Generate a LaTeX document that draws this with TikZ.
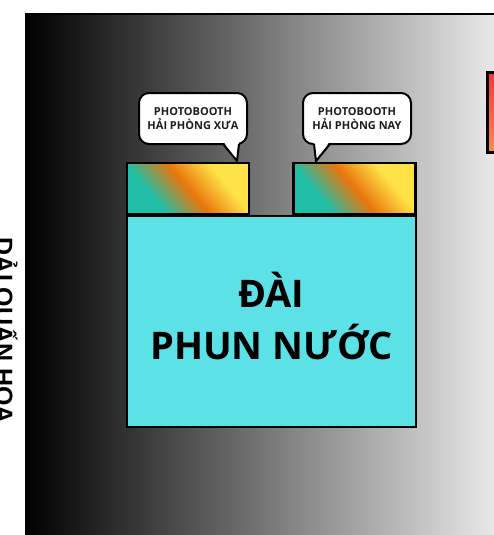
\documentclass[tikz,border=0pt]{standalone}
\usepackage{fontspec}
\setmainfont{Open Sans}
\newfontfamily\sidefont{Liberation Sans}
\usetikzlibrary{positioning}
\definecolor{fountaincyan}{RGB}{92,225,230}
\definecolor{boothteal}{RGB}{32,190,166}
\definecolor{boothorange}{RGB}{232,118,12}
\definecolor{boothyellow}{RGB}{255,226,72}
\definecolor{signred}{RGB}{244,56,56}
\definecolor{signorange}{RGB}{250,140,78}
\definecolor{bubbletext}{RGB}{30,30,30}
\pgfdeclarehorizontalshading{boothshade}{100bp}{color(0bp)=(boothteal); color(32bp)=(boothteal); color(50bp)=(boothorange); color(68bp)=(boothyellow); color(100bp)=(boothyellow)}
\tikzset{
  booth/.style={draw=black, line width=2.5pt, shading=boothshade, shading angle=40, minimum width=122pt, minimum height=51pt, inner sep=0pt},
  bubble/.style={draw=black, line width=2pt, fill=white, rounded corners=10pt, minimum width=108pt, minimum height=51pt, align=center, inner sep=0pt, text=bubbletext, font=\bfseries\fontsize{11}{14.5}\selectfont},
  tail/.style={draw=black, line width=2pt, line join=miter}
}
\begin{document}
\begin{tikzpicture}[x=1pt, y=-1pt]
\useasboundingbox (0,0) rectangle (494,535);
% backdrop
\shade[left color=black, right color=white!96!black] (25,14) rectangle (520,560);
\draw[line width=2pt] (25,14) -- (520,14);
\node[font=\sidefont\bfseries\fontsize{25}{30}\selectfont, rotate=-90, anchor=base, inner sep=0pt] (side) at (-5,331) {DẢI QUẤN HOA};
% sign on the right
\shade[top color=signred, bottom color=signorange, draw=black, line width=2.5pt] (487.5,72.5) rectangle (520,152.5);
% fountain and booths
\node[draw=black, line width=2.5pt, fill=fountaincyan, minimum width=289pt, minimum height=211pt, align=center, inner sep=0pt, text depth=11pt, font=\bfseries\fontsize{38}{52}\selectfont] (fountain) at (271.5,321.5) {ĐÀI\\PHUN NƯỚC};
\node[booth] (boothA) at (188,188.5) {};
\node[booth] (boothB) at (354.5,188.5) {};
% speech bubbles
\node[bubble] (bubbleA) at (193,118.5) {PHOTOBOOTH\\HẢI PHÒNG XƯA};
\node[bubble] (bubbleB) at (357,118.5) {PHOTOBOOTH\\HẢI PHÒNG NAY};
\coordinate (tipA) at (237,161);
\coordinate (tipB) at (316,161);
\fill[white] (223,141) -- (tipA) -- (239,141) -- cycle;
\draw[tail] (223,144) -- (tipA) -- (239,144);
\fill[white] (314,141) -- (tipB) -- (330,141) -- cycle;
\draw[tail] (314,144) -- (tipB) -- (330,144);
\end{tikzpicture}
\end{document}
